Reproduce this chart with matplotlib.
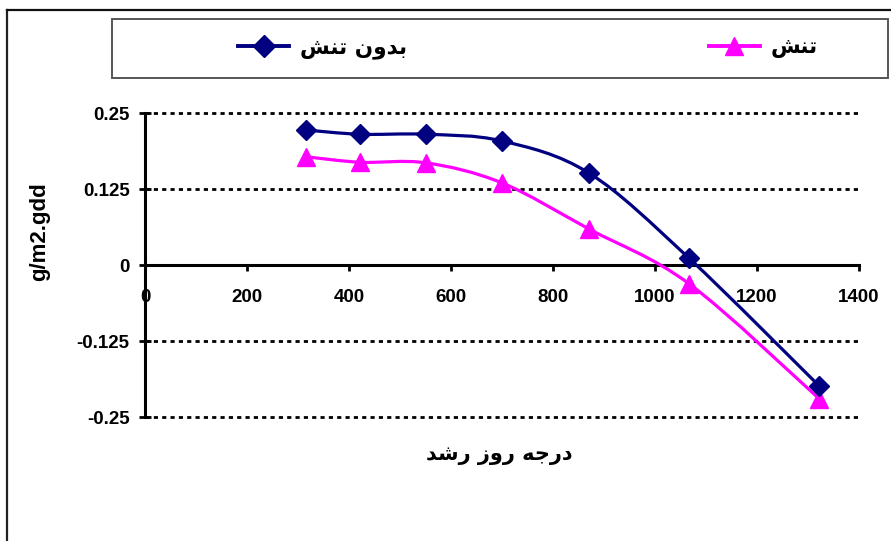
import numpy as np
import matplotlib
matplotlib.use("Agg")
import matplotlib.pyplot as plt
from matplotlib.path import Path
from matplotlib.patches import PathPatch, Rectangle
from matplotlib.lines import Line2D

# ---- data ----
gdd = [316, 422, 551, 700, 871, 1067, 1322]
no_stress = [0.222, 0.215, 0.215, 0.204, 0.151, 0.011, -0.199]
stress = [0.178, 0.169, 0.168, 0.135, 0.059, -0.031, -0.220]
x_ticks = [0, 200, 400, 600, 800, 1000, 1200, 1400]
y_ticks = [-0.25, -0.125, 0, 0.125, 0.25]
y_tick_labels = ["-0.25", "-0.125", "0", "0.125", "0.25"]

# Persian labels in Arabic presentation forms (visual order)
label_no_stress = "\uFEB6\uFEE8\uFE97 \uFEE5\uFEED\uFEAA\uFE91"   # بدون تنش
label_stress = "\uFEB6\uFEE8\uFE97"                                # تنش
x_label = "\uFEAA\uFEB7\uFEAD \uFEAF\uFEED\uFEAD \uFEEA\uFE9F\uFEAD\uFEA9"  # درجه روز رشد
y_label = "g/m2.gdd"

W, H = 891, 541
fig = plt.figure(figsize=(W / 100, H / 100), dpi=100)
fig.patch.set_facecolor("white")
ax = fig.add_axes([145 / W, 1 - 417 / H, (859 - 145) / W, (417 - 113) / H])


def smooth_path(xs, ys):
    p = np.column_stack([xs, ys]).astype(float)
    n = len(p)
    verts = [p[0]]
    codes = [Path.MOVETO]
    for i in range(n - 1):
        p0 = p[i - 1] if i > 0 else p[i]
        p1 = p[i]
        p2 = p[i + 1]
        p3 = p[i + 2] if i + 2 < n else p[i + 1]
        c1 = p1 + (p2 - p0) / 6.0
        c2 = p2 - (p3 - p1) / 6.0
        verts += [c1, c2, p2]
        codes += [Path.CURVE4] * 3
    return Path(verts, codes)


blue = "#000080"
pink = "#FF00FF"

for ys, col in [(stress, pink), (no_stress, blue)]:
    patch = PathPatch(smooth_path(gdd, ys), facecolor="none", edgecolor=col,
                      lw=2.3, transform=ax.transData, zorder=3)
    ax.add_patch(patch)

ax.plot(gdd, stress, linestyle="none", marker="^", markersize=13,
        color=pink, zorder=4, clip_on=False)
ax.plot(gdd, no_stress, linestyle="none", marker="D", markersize=10.5,
        color=blue, zorder=5, clip_on=False)

ax.set_xlim(0, 1400)
ax.set_ylim(-0.25, 0.25)

# grid lines (dotted)
for yv in y_ticks:
    if yv != 0:
        ax.axhline(yv, color="black", lw=2.0, dashes=(1.5, 1.5), zorder=1,
                   clip_on=False)

for s in ["top", "right"]:
    ax.spines[s].set_visible(False)
ax.spines["bottom"].set_position(("data", 0))
ax.spines["bottom"].set_linewidth(2.2)
ax.spines["left"].set_linewidth(2.2)
ax.spines["bottom"].set_zorder(2)

ax.set_xticks(x_ticks)
ax.set_xticklabels([str(v) for v in x_ticks])
ax.set_yticks(y_ticks)
ax.set_yticklabels(y_tick_labels)

for lab in ax.get_xticklabels() + ax.get_yticklabels():
    lab.set_fontfamily("Liberation Sans")
    lab.set_fontweight("bold")
    lab.set_fontsize(13.5)

ax.tick_params(axis="x", direction="out", length=4, width=2, pad=13)
ax.tick_params(axis="y", direction="inout", length=8, width=2, pad=7)

# axis labels
fig.text(40 / W, 1 - 232 / H, y_label, rotation=90, ha="center", va="center",
         fontfamily="Liberation Sans", fontweight="bold", fontsize=16)
fig.text(499 / W, 1 - 455 / H, x_label, ha="center", va="center",
         fontfamily="DejaVu Sans", fontweight="bold", fontsize=15)

# outer frame lines
fig.add_artist(Line2D([7 / W, 7 / W], [0, 1 - 10 / H], color="#222222", lw=1.6,
                      transform=fig.transFigure))
fig.add_artist(Line2D([7 / W, 1], [1 - 10 / H, 1 - 10 / H], color="#111111", lw=1.6,
                      transform=fig.transFigure))

# legend box
fig.add_artist(Rectangle((112 / W, 1 - 78 / H), 776 / W, 59 / H,
                         transform=fig.transFigure, facecolor="none",
                         edgecolor="#555555", lw=1.4))

handles = [
    Line2D([], [], color=blue, lw=2.8, marker="D", markersize=11),
    Line2D([], [], color=pink, lw=2.8, marker="^", markersize=13),
]
fig.legend(handles, [label_no_stress, label_stress], loc="center",
           bbox_to_anchor=(528 / W, 1 - 48 / H), ncol=2, frameon=False,
           columnspacing=14.0, handlelength=2.4, handletextpad=0.5,
           prop=dict(family="DejaVu Sans", weight="bold", size=15.5))

fig.savefig("out.png", dpi=100)
